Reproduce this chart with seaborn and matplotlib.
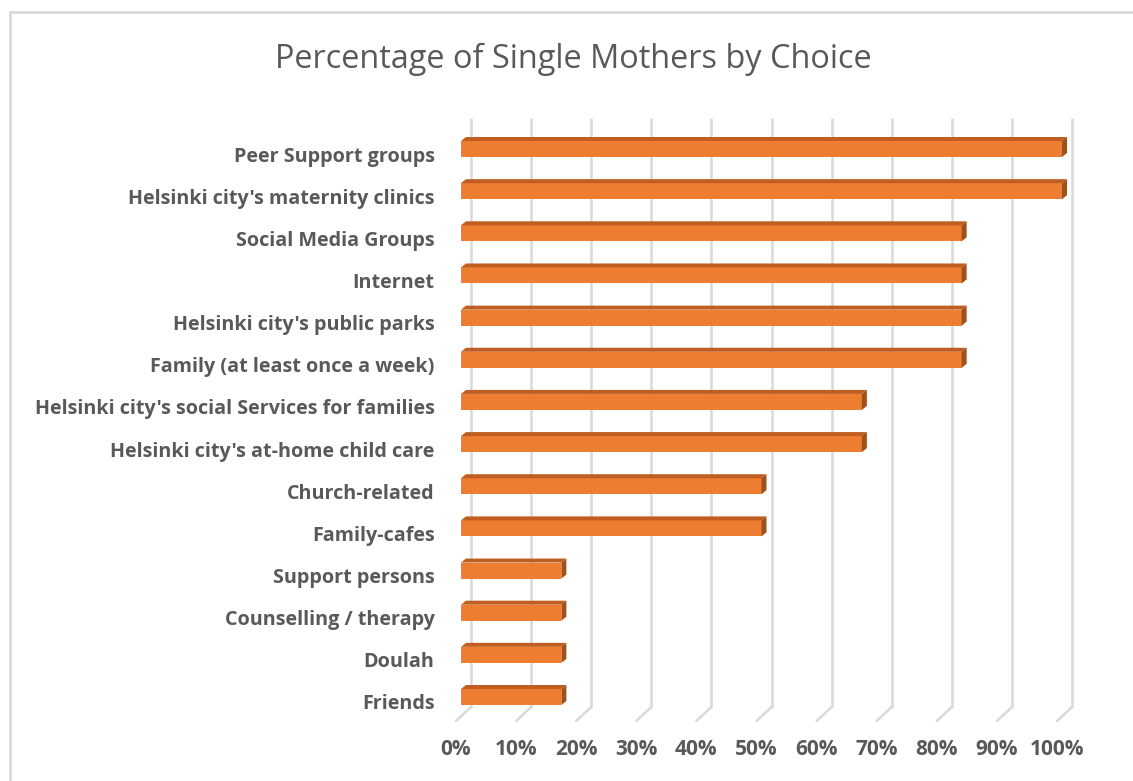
# Imports
import pandas as pd
import matplotlib.pyplot as plt
import seaborn as sns
from matplotlib.patches import Polygon
from matplotlib.lines import Line2D
from matplotlib.transforms import ScaledTranslation

# Dados do gráfico
categorias = ["Peer Support groups", "Helsinki city's maternity clinics", "Social Media Groups",
              "Internet", "Helsinki city's public parks", "Family (at least once a week)",
              "Helsinki city's social Services for families", "Helsinki city's at-home child care",
              "Church-related", "Family-cafes", "Support persons", "Counselling / therapy",
              "Doulah", "Friends"]
percentuais = [100, 100, 83.3, 83.3, 83.3, 83.3, 66.7, 66.7, 50, 50, 16.7, 16.7, 16.7, 16.7]
ticks = [0, 10, 20, 30, 40, 50, 60, 70, 80, 90, 100]
tick_labels = ["0%", "10%", "20%", "30%", "40%", "50%", "60%", "70%", "80%", "90%", "100%"]

df = pd.DataFrame({"categoria": categorias, "percentual": percentuais})

sns.set_style("white")
plt.rcParams["font.family"] = ["Open Sans", "DejaVu Sans"]

cinza = "#595959"
laranja = "#ED7D31"
topo = "#BF5E20"
lado = "#A0501B"

W, H = 1133, 781
fig = plt.figure(figsize=(W / 100, H / 100), dpi=100)
# eixo no plano da frente das barras (em pixels)
ax_l, ax_r, ax_t, ax_b = 461, 1062, 119, 707
ax = fig.add_axes([ax_l / W, 1 - ax_b / H, (ax_r - ax_l) / W, (ax_b - ax_t) / H])

# escalas em pixels
px_x = 100 / (ax_r - ax_l)
passo = 42.15
px_y = 1 / passo

sns.barplot(data=df, x="percentual", y="categoria", orient="h", color=laranja,
            width=16 * px_y, saturation=1, ax=ax, zorder=3, edgecolor="none")

ax.set_xlim(0, 100)
ax.set_ylim(13 + 10 * px_y, -30 * px_y)

# efeito 3D das barras
dx, dy = 5 * px_x, 4 * px_y
for p in list(ax.patches):
    p.set_clip_on(False)
    x0, y0 = p.get_x(), p.get_y()
    w, h = p.get_width(), p.get_height()
    y_top, y_bot = y0, y0 + h
    ax.add_patch(Polygon([(x0, y_top), (x0 + dx, y_top - dy), (x0 + w + dx, y_top - dy), (x0 + w, y_top)],
                         closed=True, facecolor=topo, edgecolor="none", zorder=3, clip_on=False))
    ax.add_patch(Polygon([(x0 + w, y_top), (x0 + w + dx, y_top - dy), (x0 + w + dx, y_bot - dy), (x0 + w, y_bot)],
                         closed=True, facecolor=lado, edgecolor="none", zorder=3, clip_on=False))

# linhas de grade na parede do fundo com a diagonal do piso
trans = ax.get_xaxis_transform()
alt = ax_b - ax_t
for t in ticks:
    xb = t + 10 * px_x
    ax.plot([xb, xb], [1, 0], transform=trans, color="#d9d9d9", lw=1.8, zorder=1, clip_on=False)
    ax.plot([xb, t - 5 * px_x], [0, -14 / alt], transform=trans, color="#d9d9d9", lw=1.8,
            zorder=1, clip_on=False)

for s in ax.spines.values():
    s.set_visible(False)

ax.set_xlabel("")
ax.set_ylabel("")
ax.set_xticks(ticks)
ax.set_xticklabels(tick_labels)
ax.tick_params(axis="x", length=0, pad=23, labelsize=15, labelcolor=cinza)
ax.tick_params(axis="y", length=0, pad=19, labelsize=14.2, labelcolor=cinza)
for lb in ax.get_xticklabels():
    lb.set_fontweight("bold")
    lb.set_transform(lb.get_transform() + ScaledTranslation(-5 / 100, 0, fig.dpi_scale_trans))
for lb in ax.get_yticklabels():
    lb.set_fontweight("bold")
    lb.set_transform(lb.get_transform() + ScaledTranslation(0, -5 / 100, fig.dpi_scale_trans))

# Título
fig.text(573 / W, 1 - 59 / H, "Percentage of Single Mothers by Choice", ha="center", va="center",
         fontsize=23.4, color=cinza)

# borda do gráfico
fig.add_artist(Line2D([10 / W, 10 / W], [0, 1 - 12 / H], color="#d9d9d9", lw=2))
fig.add_artist(Line2D([10 / W, 1], [1 - 12 / H, 1 - 12 / H], color="#d9d9d9", lw=2))

plt.savefig("out.png", dpi=100)
